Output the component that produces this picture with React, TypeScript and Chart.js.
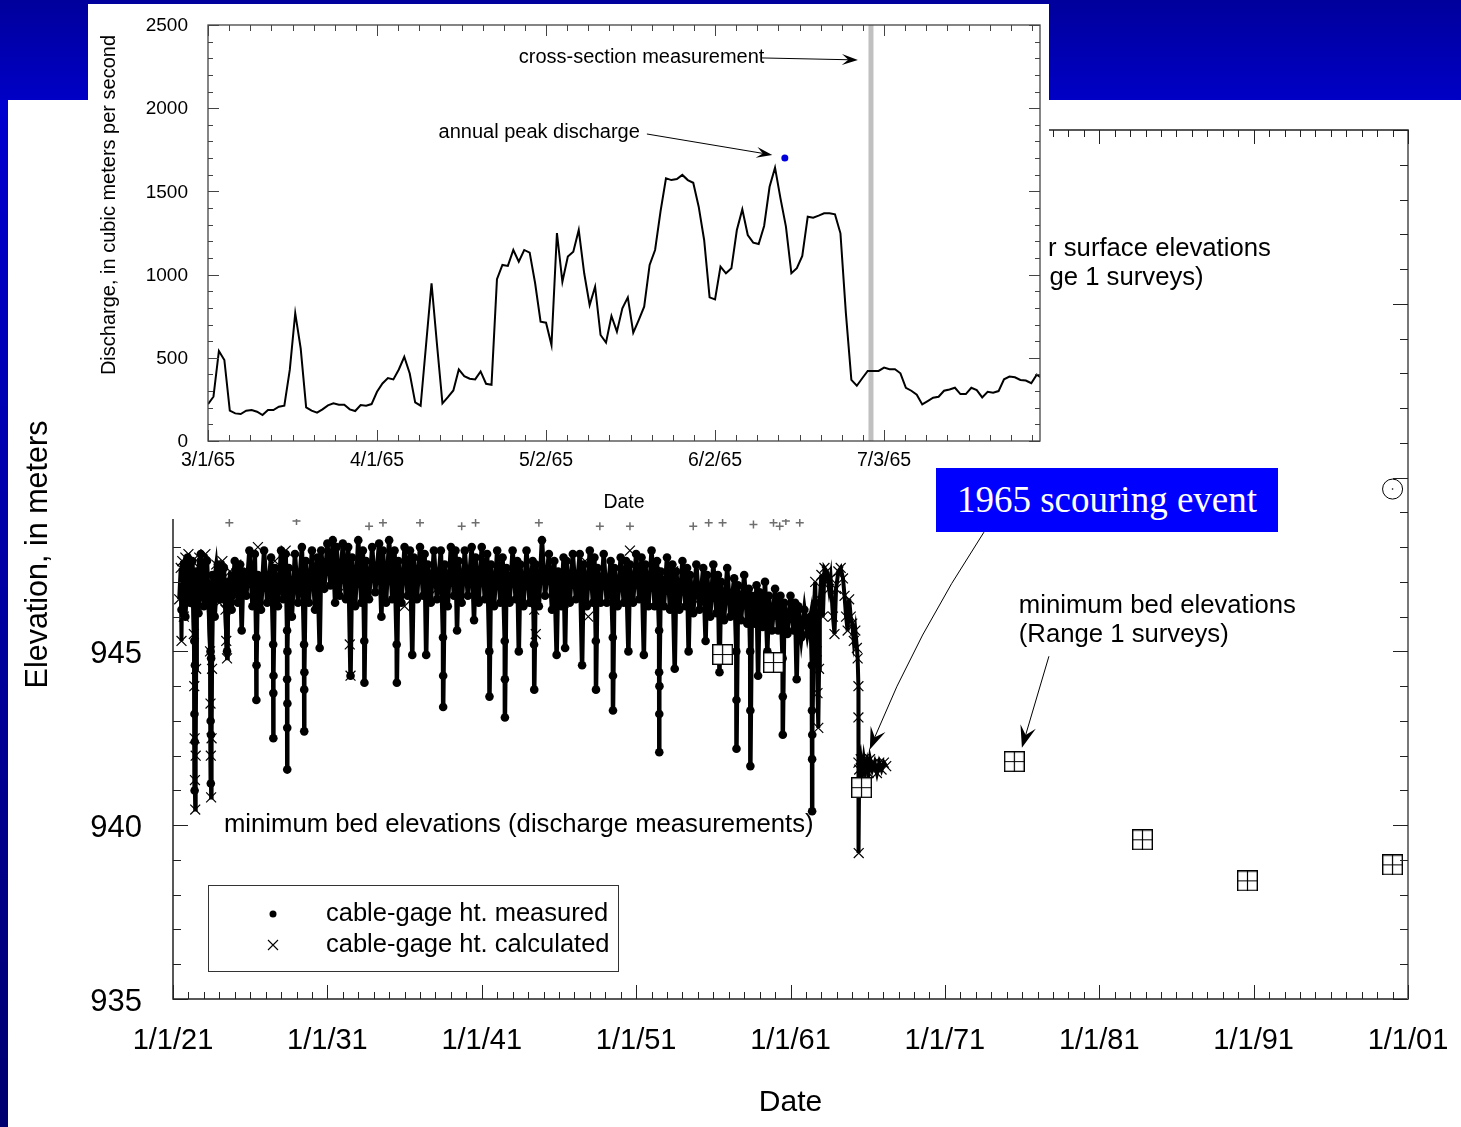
import React, { useEffect, useRef } from 'react';
import { Chart, registerables } from 'chart.js';

Chart.register(...registerables);

const FONT = "'Liberation Sans', Arial, Helvetica, sans-serif";
const SERIF = "'Liberation Serif', 'Times New Roman', Times, serif";

// ================= MAIN CHART DATA (decimal year, elevation in m) =================
const mainDecadeTicks = [1921, 1931, 1941, 1951, 1961, 1971, 1981, 1991, 2001];
const mainElevTicks = [935, 940, 945, 950, 955, 960];

const cableGageMeasured: [number, number][] = [
  [1921.55, 946.2], [1921.7, 947.5], [1921.8, 946.0], [1921.95, 947.7], [1922.1, 946.4], [1922.25, 947.6],
  [1922.38, 945.3], [1922.39, 943.2], [1922.4, 941.0], [1922.41, 942.4], [1922.42, 944.6],
  [1922.5, 947.3], [1922.65, 946.1], [1922.8, 947.8], [1923.0, 946.3], [1923.2, 947.6],
  [1923.43, 945.0], [1923.44, 943.0], [1923.45, 941.2], [1923.46, 942.6], [1923.47, 944.8],
  [1923.55, 947.2], [1923.7, 946.0], [1923.9, 947.5], [1924.1, 946.5], [1924.3, 947.4],
  [1924.5, 945.0], [1924.6, 947.0], [1924.8, 946.2], [1925.0, 947.6], [1925.2, 946.4], [1925.35, 947.5],
  [1925.45, 945.6], [1925.55, 947.3], [1925.75, 946.6], [1925.95, 947.9], [1926.15, 946.3], [1926.3, 947.8],
  [1926.39, 945.4], [1926.4, 943.6], [1926.41, 944.6],
  [1926.5, 947.2], [1926.7, 946.2], [1926.9, 947.9], [1927.1, 946.4], [1927.35, 947.7],
  [1927.49, 945.2], [1927.5, 943.8], [1927.5, 942.5], [1927.51, 944.3],
  [1927.6, 947.4], [1927.8, 946.3], [1928.0, 947.9], [1928.15, 946.5], [1928.3, 947.8],
  [1928.39, 945.6], [1928.39, 944.2], [1928.4, 942.8], [1928.4, 941.6], [1928.41, 943.5], [1928.41, 945.0],
  [1928.5, 947.4], [1928.7, 946.0], [1928.9, 947.8], [1929.1, 946.4], [1929.35, 948.0],
  [1929.49, 945.2], [1929.5, 943.9], [1929.5, 942.7], [1929.51, 944.4],
  [1929.6, 947.6], [1929.8, 946.4], [1930.0, 947.9], [1930.2, 946.2], [1930.35, 947.7],
  [1930.5, 945.1], [1930.6, 947.9], [1930.8, 946.8], [1931.0, 948.1], [1931.2, 946.9], [1931.35, 948.2],
  [1931.5, 946.4], [1931.6, 948.0], [1931.8, 946.6], [1932.0, 948.1], [1932.2, 946.5], [1932.35, 948.0],
  [1932.5, 944.3], [1932.6, 947.7], [1932.8, 946.3], [1933.0, 948.2], [1933.2, 946.4], [1933.3, 947.9],
  [1933.39, 945.3], [1933.4, 944.1], [1933.5, 947.6], [1933.7, 946.5], [1933.9, 948.0], [1934.1, 946.7], [1934.35, 948.1],
  [1934.5, 946.0], [1934.6, 947.9], [1934.8, 946.4], [1935.0, 948.2], [1935.2, 946.5], [1935.35, 947.9],
  [1935.49, 945.2], [1935.5, 944.1], [1935.6, 947.6], [1935.8, 946.4], [1936.0, 948.0], [1936.2, 946.6], [1936.35, 947.9],
  [1936.5, 944.9], [1936.6, 947.7], [1936.8, 946.5], [1937.0, 948.0], [1937.2, 946.6], [1937.3, 947.8],
  [1937.4, 944.9], [1937.5, 947.5], [1937.7, 946.4], [1937.9, 947.9], [1938.1, 946.5], [1938.35, 947.9],
  [1938.49, 945.4], [1938.5, 944.3], [1938.5, 943.4], [1938.6, 947.5], [1938.8, 946.3], [1939.0, 948.0], [1939.2, 946.6], [1939.3, 947.9],
  [1939.4, 945.6], [1939.5, 947.6], [1939.7, 946.4], [1939.9, 947.9], [1940.1, 946.6], [1940.35, 948.0],
  [1940.5, 945.9], [1940.6, 947.7], [1940.8, 946.4], [1941.0, 948.0], [1941.2, 946.5], [1941.35, 947.8],
  [1941.49, 945.0], [1941.5, 943.7], [1941.6, 947.5], [1941.8, 946.3], [1942.0, 947.9], [1942.2, 946.4], [1942.35, 947.7],
  [1942.49, 945.3], [1942.5, 944.2], [1942.5, 943.1], [1942.6, 947.4], [1942.8, 946.4], [1943.0, 947.9], [1943.2, 946.5], [1943.3, 947.6],
  [1943.4, 945.0], [1943.5, 947.5], [1943.7, 946.3], [1943.9, 947.9], [1944.1, 946.4], [1944.3, 947.6],
  [1944.39, 945.2], [1944.4, 943.9], [1944.5, 947.5], [1944.7, 946.3], [1944.9, 948.2], [1945.1, 946.6], [1945.35, 947.8],
  [1945.55, 946.2], [1945.7, 947.6], [1945.85, 944.9], [1945.95, 947.3], [1946.15, 946.3], [1946.3, 947.7],
  [1946.4, 945.1], [1946.5, 947.6], [1946.7, 946.4], [1946.9, 947.8], [1947.1, 946.5], [1947.35, 947.8],
  [1947.5, 944.6], [1947.6, 947.5], [1947.8, 946.3], [1948.0, 947.9], [1948.2, 946.4], [1948.3, 947.7],
  [1948.39, 945.3], [1948.4, 943.9], [1948.5, 947.4], [1948.7, 946.4], [1948.9, 947.8], [1949.1, 946.4], [1949.35, 947.6],
  [1949.49, 945.4], [1949.5, 944.3], [1949.5, 943.3], [1949.6, 947.4], [1949.8, 946.3], [1950.0, 947.7], [1950.2, 946.4], [1950.35, 947.6],
  [1950.5, 945.0], [1950.6, 947.5], [1950.8, 946.4], [1951.0, 947.8], [1951.2, 946.5], [1951.35, 947.7],
  [1951.5, 944.9], [1951.6, 947.5], [1951.8, 946.3], [1952.0, 947.9], [1952.2, 946.3], [1952.35, 947.6],
  [1952.49, 945.6], [1952.49, 944.4], [1952.5, 943.2], [1952.5, 942.1], [1952.51, 944.0],
  [1952.6, 947.3], [1952.8, 946.3], [1953.0, 947.7], [1953.2, 946.2], [1953.35, 947.5],
  [1953.5, 944.5], [1953.6, 947.3], [1953.8, 946.2], [1954.0, 947.6], [1954.2, 946.3], [1954.3, 947.4],
  [1954.4, 945.0], [1954.5, 947.2], [1954.7, 946.1], [1954.9, 947.5], [1955.1, 946.2], [1955.35, 947.4],
  [1955.5, 945.3], [1955.6, 947.2], [1955.8, 946.0], [1956.0, 947.5], [1956.2, 946.1], [1956.3, 947.2],
  [1956.4, 944.4], [1956.5, 947.0], [1956.7, 945.9], [1956.9, 947.4], [1957.1, 946.0], [1957.35, 947.1],
  [1957.49, 945.0], [1957.5, 943.6], [1957.5, 942.2], [1957.6, 946.9], [1957.8, 945.9], [1958.0, 947.2], [1958.2, 945.8], [1958.3, 946.8],
  [1958.39, 945.0], [1958.4, 943.3], [1958.4, 941.7], [1958.5, 946.6], [1958.7, 945.8], [1958.8, 946.9], [1958.9, 944.3], [1959.0, 946.7],
  [1959.2, 945.7], [1959.35, 947.0], [1959.5, 945.0], [1959.6, 946.6], [1959.8, 945.6], [1960.0, 946.8],
  [1960.2, 945.6], [1960.35, 946.6], [1960.49, 944.8], [1960.5, 943.7], [1960.5, 942.6], [1960.6, 946.4], [1960.8, 945.5], [1961.0, 946.6],
  [1961.2, 945.6], [1961.3, 946.4], [1961.4, 944.2], [1961.5, 946.3], [1961.7, 945.4], [1961.9, 946.2],
  [1962.1, 945.5], [1962.3, 946.0], [1962.39, 944.6], [1962.39, 943.3], [1962.4, 941.9], [1962.4, 940.4], [1962.41, 942.6],
  [1962.5, 945.8], [1962.6, 946.4],
];

const cableGageCalculatedEarly: [number, number][] = [
  [1921.4, 946.5], [1921.5, 947.4], [1921.55, 945.3], [1921.6, 947.6], [1921.7, 946.0], [1921.8, 947.7],
  [1921.9, 946.4], [1922.0, 947.8], [1922.1, 946.8], [1922.25, 947.6], [1922.35, 945.5], [1922.38, 944.0],
  [1922.4, 942.5], [1922.42, 941.3], [1922.44, 940.45], [1922.47, 942.0], [1922.5, 944.5], [1922.55, 946.7],
  [1922.7, 947.7], [1922.9, 946.5], [1923.1, 947.8], [1923.3, 946.6], [1923.4, 945.0], [1923.43, 943.5],
  [1923.45, 942.0], [1923.47, 940.8], [1923.5, 942.5], [1923.53, 944.5], [1923.6, 946.8], [1923.8, 947.5],
  [1924.0, 946.4], [1924.2, 947.6], [1924.4, 946.2], [1924.45, 945.3], [1924.5, 944.8], [1924.55, 946.5],
  [1924.7, 947.3], [1924.9, 946.5], [1925.1, 947.5],
];

const cableGageCalculatedLate: [number, number][] = [
  [1962.5, 946.0], [1962.6, 947.0], [1962.7, 945.0], [1962.75, 943.8], [1962.8, 942.8], [1962.85, 944.5],
  [1962.9, 946.5], [1963.0, 947.2], [1963.1, 946.0], [1963.2, 947.4], [1963.35, 947.3], [1963.5, 946.8],
  [1963.6, 947.1], [1963.75, 946.0], [1963.85, 945.5], [1963.95, 946.8], [1964.1, 947.3], [1964.25, 947.4],
  [1964.4, 947.1], [1964.5, 946.6], [1964.6, 946.0], [1964.7, 945.6], [1964.8, 946.5], [1964.9, 946.0],
  [1965.0, 945.8], [1965.1, 945.3], [1965.2, 945.6], [1965.3, 945.1], [1965.35, 944.8], [1965.4, 944.0],
  [1965.4, 943.1], [1965.4, 941.8], [1965.42, 939.2], [1965.45, 941.6], [1965.55, 941.9], [1965.65, 941.5],
  [1965.75, 941.9], [1965.85, 941.6], [1965.95, 941.8], [1966.05, 941.5], [1966.15, 941.9], [1966.3, 941.6],
  [1966.45, 941.8], [1966.6, 941.5], [1966.75, 941.8], [1966.9, 941.6], [1967.05, 941.8], [1967.2, 941.7],
];

const cableGageCalculatedIsolated: [number, number][] = [
  [1926.5, 948.0], [1927.6, 947.6], [1928.3, 947.9], [1929.6, 947.2], [1931.7, 946.9], [1932.45, 945.2],
  [1932.5, 944.3], [1936.0, 946.3], [1938.1, 946.8], [1944.4, 946.2], [1944.5, 945.5], [1945.2, 947.1],
  [1946.3, 946.4], [1947.7, 947.6], [1947.9, 946.0], [1950.6, 947.9], [1952.3, 947.5], [1953.4, 947.3],
  [1955.2, 946.3], [1955.4, 946.6], [1961.0, 945.9],
];

const waterSurfaceDischargeMeas: [number, number][] = [
  [1924.65, 948.7], [1929.0, 948.75], [1933.7, 948.6], [1934.6, 948.7], [1937.0, 948.7], [1939.7, 948.6],
  [1940.6, 948.7], [1944.7, 948.7], [1948.65, 948.6], [1950.6, 948.6], [1954.7, 948.6], [1955.7, 948.7],
  [1956.6, 948.7], [1958.6, 948.65], [1959.9, 948.7], [1960.3, 948.6], [1960.7, 948.75], [1961.6, 948.7],
];

const range1BedDates = [1956.6, 1959.9, 1965.6, 1975.5, 1983.8, 1990.6, 2000.0];
const range1BedElev = [944.91, 944.68, 941.08, 941.83, 939.58, 938.4, 938.86];
const range1WaterDates = [2000.0];
const range1WaterElev = [949.67];

// annotation anchors (data coordinates)
const noteDischargeBed = { x: 1924.3, y: 940.0 };
const noteRange1Bed = { x: 1975.79, y1: 946.3, y2: 945.46 };
const noteRange1Water = { x: 1974.17, y1: 956.59, y2: 955.75 };
const arrowRange1 = { x0: 1977.74, y0: 944.86, x1: 1975.99, y1: 942.23 };
const arrowScour = { x0: 1973.53, y0: 948.43, cx: 1969.12, cy: 945.46, x1: 1966.14, y1: 942.18 };

// ================= INSET DATA (days since 3/1/65, m3/s) =================
const dischargeCms = [
  222, 266, 541, 487, 182, 166, 162, 182, 186, 176,
  156, 186, 186, 206, 212, 427, 768, 557, 202, 182,
  170, 190, 214, 226, 218, 218, 190, 180, 216, 212,
  222, 296, 346, 378, 370, 430, 506, 406, 232, 212,
  580, 948, 580, 226, 264, 304, 430, 390, 374, 370,
  418, 344, 338, 972, 1058, 1052, 1148, 1078, 1148, 1132,
  948, 717, 711, 577, 1250, 957, 1108, 1138, 1268, 1008,
  817, 927, 637, 591, 751, 657, 797, 863, 651, 727,
  807, 1058, 1148, 1380, 1579, 1568, 1574, 1599, 1568, 1552,
  1408, 1208, 863, 851, 1048, 1008, 1038, 1268, 1392, 1238,
  1192, 1184, 1292, 1528, 1643, 1458, 1288, 1008, 1038, 1112,
  1348, 1342, 1354, 1368, 1368, 1362, 1248, 767, 367, 332,
  377, 421, 421, 421, 441, 431, 431, 407, 320, 302,
  278, 220, 240, 260, 266, 302, 310, 320, 282, 282,
  320, 306, 262, 296, 290, 300, 371, 387, 383, 367,
  363, 347, 399, 377,
];
const insetDateTicks = [0, 31, 62, 93, 124];
const insetDateLabels = ['3/1/65', '4/1/65', '5/2/65', '6/2/65', '7/3/65'];
const insetDischargeTicks = [0, 500, 1000, 1500, 2000, 2500];
const insetDayMax = 152.6;
const annualPeakDay = [105.8];
const annualPeakCms = [1700];
const crossSectionDay = 121.6;
const noteCross = { x: 57.0, y: 2302 };
const arrowCross = { x0: 101.6, y0: 2302, x1: 119.2, y1: 2290 };
const notePeak = { x: 79.2, y: 1857 };
const arrowPeak = { x0: 80.5, y0: 1845, x1: 103.5, y1: 1719 };

// ================= helpers =================
function drawArrow(ctx: CanvasRenderingContext2D, x0: number, y0: number, x1: number, y1: number,
  len: number, half: number, lw: number, cx?: number, cy?: number) {
  const fx = cx !== undefined ? cx : x0;
  const fy = cy !== undefined ? cy : y0;
  const ang = Math.atan2(y1 - fy, x1 - fx);
  const cos = Math.cos(ang), sin = Math.sin(ang);
  const nx = x1 - len * 0.6 * cos, ny = y1 - len * 0.6 * sin;
  ctx.strokeStyle = '#000';
  ctx.fillStyle = '#000';
  ctx.lineWidth = lw;
  ctx.beginPath();
  ctx.moveTo(x0, y0);
  if (cx !== undefined && cy !== undefined) ctx.quadraticCurveTo(cx, cy, nx, ny);
  else ctx.lineTo(nx, ny);
  ctx.stroke();
  const bx = x1 - len * cos, by = y1 - len * sin;
  ctx.beginPath();
  ctx.moveTo(x1, y1);
  ctx.lineTo(bx - half * sin, by + half * cos);
  ctx.lineTo(nx, ny);
  ctx.lineTo(bx + half * sin, by - half * cos);
  ctx.closePath();
  ctx.fill();
}

function makeGridSquare(size: number): HTMLCanvasElement {
  const c = document.createElement('canvas');
  c.width = size;
  c.height = size;
  const g = c.getContext('2d')!;
  g.fillStyle = '#fff';
  g.fillRect(0, 0, size, size);
  g.strokeStyle = '#000';
  g.lineWidth = 1.4;
  g.strokeRect(0.7, 0.7, size - 1.4, size - 1.4);
  g.lineWidth = 1.2;
  g.beginPath();
  g.moveTo(size / 2, 0);
  g.lineTo(size / 2, size);
  g.moveTo(0, size / 2);
  g.lineTo(size, size / 2);
  g.stroke();
  return c;
}

const pts = (arr: [number, number][]) => arr.map(([x, y]) => ({ x, y }));
const zeroPad = (s: any) => { s.paddingLeft = 0; s.paddingRight = 0; s.paddingTop = 0; s.paddingBottom = 0; };

export default function App() {
  const mainRef = useRef<HTMLCanvasElement>(null);
  const insetRef = useRef<HTMLCanvasElement>(null);

  useEffect(() => {
    const square = makeGridSquare(21);

    const mainDecor = {
      id: 'mainDecor',
      afterDraw(chart: any) {
        const { ctx, chartArea: a, scales } = chart;
        const x = scales.x, y = scales.y;
        ctx.save();
        ctx.strokeStyle = '#222';
        ctx.lineWidth = 1.5;
        ctx.strokeRect(a.left, a.top, a.right - a.left, a.bottom - a.top);
        ctx.strokeStyle = '#777';
        ctx.lineWidth = 2;
        ctx.beginPath();
        ctx.moveTo(a.right, a.top); ctx.lineTo(a.right, a.bottom);
        ctx.stroke();
        ctx.strokeStyle = '#222';
        ctx.lineWidth = 1;
        ctx.beginPath();
        for (let yr = 1921; yr <= 2001; yr++) {
          const px = Math.round(x.getPixelForValue(yr)) + 0.5;
          const len = (yr - 1921) % 10 === 0 ? 14 : 7;
          ctx.moveTo(px, a.bottom); ctx.lineTo(px, a.bottom - len);
          ctx.moveTo(px, a.top); ctx.lineTo(px, a.top + len);
        }
        for (let e = 935; e <= 960; e++) {
          const py = Math.round(y.getPixelForValue(e)) + 0.5;
          const len = e % 5 === 0 ? 15 : 8;
          ctx.moveTo(a.left, py); ctx.lineTo(a.left + len, py);
          ctx.moveTo(a.right, py); ctx.lineTo(a.right - len, py);
        }
        ctx.stroke();

        // y axis title
        ctx.save();
        ctx.translate(39, (a.top + a.bottom) / 2 - 10);
        ctx.rotate(-Math.PI / 2);
        ctx.fillStyle = '#000';
        ctx.font = `30.5px ${FONT}`;
        ctx.textAlign = 'center';
        ctx.textBaseline = 'middle';
        ctx.fillText('Elevation, in meters', 0, 0);
        ctx.restore();

        // annotations
        ctx.fillStyle = '#000';
        ctx.font = `25.7px ${FONT}`;
        ctx.textAlign = 'left';
        ctx.textBaseline = 'middle';
        ctx.fillText('minimum bed elevations (discharge measurements)',
          x.getPixelForValue(noteDischargeBed.x), y.getPixelForValue(noteDischargeBed.y));
        ctx.fillText('minimum bed elevations', x.getPixelForValue(noteRange1Bed.x), y.getPixelForValue(noteRange1Bed.y1));
        ctx.fillText('(Range 1 surveys)', x.getPixelForValue(noteRange1Bed.x), y.getPixelForValue(noteRange1Bed.y2));
        ctx.fillText('water surface elevations', x.getPixelForValue(noteRange1Water.x), y.getPixelForValue(noteRange1Water.y1));
        ctx.fillText('(Range 1 surveys)', x.getPixelForValue(noteRange1Water.x), y.getPixelForValue(noteRange1Water.y2));

        drawArrow(ctx, x.getPixelForValue(arrowRange1.x0), y.getPixelForValue(arrowRange1.y0),
          x.getPixelForValue(arrowRange1.x1), y.getPixelForValue(arrowRange1.y1), 22, 8, 1);
        drawArrow(ctx, x.getPixelForValue(arrowScour.x0), y.getPixelForValue(arrowScour.y0),
          x.getPixelForValue(arrowScour.x1), y.getPixelForValue(arrowScour.y1), 22, 8, 1,
          x.getPixelForValue(arrowScour.cx), y.getPixelForValue(arrowScour.cy));

        // legend box
        const lx = a.left + 35, ly = a.bottom - 114;
        ctx.strokeStyle = '#333';
        ctx.lineWidth = 1;
        ctx.strokeRect(lx + 0.5, ly + 0.5, 410, 86);
        ctx.fillStyle = '#000';
        ctx.beginPath();
        ctx.arc(lx + 65, ly + 29, 3.5, 0, Math.PI * 2);
        ctx.fill();
        ctx.strokeStyle = '#000';
        ctx.lineWidth = 1.1;
        ctx.beginPath();
        const cx0 = lx + 65, cy0 = ly + 60, r = 5;
        ctx.moveTo(cx0 - r, cy0 - r); ctx.lineTo(cx0 + r, cy0 + r);
        ctx.moveTo(cx0 + r, cy0 - r); ctx.lineTo(cx0 - r, cy0 + r);
        ctx.stroke();
        ctx.font = `25.5px ${FONT}`;
        ctx.textAlign = 'left';
        ctx.textBaseline = 'middle';
        ctx.fillText('cable-gage ht. measured', lx + 118, ly + 29);
        ctx.fillText('cable-gage ht. calculated', lx + 118, ly + 60);
        ctx.restore();
      },
    };

    const crossStyle = {
      showLine: false,
      pointStyle: 'crossRot',
      pointRadius: 7,
      pointBorderColor: '#000',
      pointBorderWidth: 1.2,
      order: 2,
    };

    const main = new Chart(mainRef.current!, {
      type: 'scatter',
      data: {
        datasets: [
          {
            label: 'minimum bed elevations (Range 1 surveys)',
            data: range1BedDates.map((d, i) => ({ x: d, y: range1BedElev[i] })),
            pointStyle: square as any,
            pointRadius: 10,
            showLine: false,
            order: 0,
          },
          {
            label: 'water surface elevations (Range 1 surveys)',
            data: range1WaterDates.map((d, i) => ({ x: d, y: range1WaterElev[i] })),
            pointStyle: 'circle',
            pointRadius: 10,
            pointBackgroundColor: '#fff',
            pointBorderColor: '#000',
            pointBorderWidth: 1,
            showLine: false,
            order: 1,
          },
          {
            label: 'water surface elevations (Range 1 surveys) centre',
            data: range1WaterDates.map((d, i) => ({ x: d, y: range1WaterElev[i] })),
            pointStyle: 'circle',
            pointRadius: 0.8,
            pointBackgroundColor: '#000',
            pointBorderWidth: 0,
            showLine: false,
            order: 0,
          },
          { ...crossStyle, label: 'cable-gage ht. calculated', data: pts(cableGageCalculatedLate), showLine: true, borderColor: '#000', borderWidth: 4 },
          { ...crossStyle, label: 'cable-gage ht. calculated (early)', data: pts(cableGageCalculatedEarly), showLine: true, borderColor: '#000', borderWidth: 4 },
          { ...crossStyle, label: 'cable-gage ht. calculated (isolated)', data: pts(cableGageCalculatedIsolated) },
          {
            label: 'cable-gage ht. measured',
            data: pts(cableGageMeasured),
            showLine: true,
            borderColor: '#000',
            borderWidth: 4.5,
            pointStyle: 'circle',
            pointRadius: 4.3,
            pointBackgroundColor: '#000',
            pointBorderWidth: 0,
            order: 3,
          },
          {
            label: 'water surface (discharge measurements)',
            data: pts(waterSurfaceDischargeMeas),
            showLine: false,
            pointStyle: 'cross',
            pointRadius: 4,
            pointBorderColor: '#6e6e6e',
            pointBorderWidth: 1.5,
            order: 4,
          },
        ],
      },
      options: {
        responsive: false,
        animation: false,
        devicePixelRatio: 1,
        layout: { padding: { top: 130, right: 53, left: 0, bottom: 0 } },
        plugins: { legend: { display: false }, tooltip: { enabled: false } },
        elements: { line: { tension: 0 } },
        scales: {
          x: {
            type: 'linear',
            position: 'bottom',
            min: 1921,
            max: 2001,
            afterBuildTicks: (s: any) => { s.ticks = mainDecadeTicks.map((v) => ({ value: v })); },
            afterFit: (s: any) => { s.height = 128; zeroPad(s); },
            grid: { display: false, drawTicks: false },
            border: { display: false },
            ticks: {
              autoSkip: false,
              maxRotation: 0,
              padding: 25,
              color: '#000',
              font: { family: FONT, size: 29 },
              callback: (v: any) => '1/1/' + String(Math.round(Number(v)) % 100).padStart(2, '0'),
            },
            title: {
              display: true,
              text: 'Date',
              color: '#000',
              font: { family: FONT, size: 30 },
              padding: { top: 0, bottom: 6 },
            },
          },
          y: {
            type: 'linear',
            min: 935,
            max: 960,
            afterBuildTicks: (s: any) => { s.ticks = mainElevTicks.map((v) => ({ value: v })); },
            afterFit: (s: any) => { s.width = 173; zeroPad(s); },
            grid: { display: false, drawTicks: false },
            border: { display: false },
            ticks: {
              autoSkip: false,
              padding: 31,
              labelOffset: 3,
              color: '#000',
              font: { family: FONT, size: 31 },
              callback: (v: any) => String(v),
            },
          },
        },
      },
      plugins: [mainDecor],
    } as any);

    const insetDecor = {
      id: 'insetDecor',
      afterDraw(chart: any) {
        const { ctx, chartArea: a, scales } = chart;
        const x = scales.x, y = scales.y;
        ctx.save();
        ctx.strokeStyle = '#444';
        ctx.lineWidth = 1.3;
        ctx.strokeRect(a.left, a.top, a.right - a.left, a.bottom - a.top);
        ctx.lineWidth = 1;
        ctx.beginPath();
        for (let k = 0; k * 3.875 <= insetDayMax + 0.01; k++) {
          const px = Math.round(x.getPixelForValue(k * 3.875)) + 0.5;
          const len = k % 8 === 0 ? 11 : 6;
          ctx.moveTo(px, a.bottom); ctx.lineTo(px, a.bottom - len);
          ctx.moveTo(px, a.top); ctx.lineTo(px, a.top + len);
        }
        for (let v = 0; v <= 2500; v += 100) {
          const py = Math.round(y.getPixelForValue(v)) + 0.5;
          const len = v % 500 === 0 ? 11 : 5;
          ctx.moveTo(a.left, py); ctx.lineTo(a.left + len, py);
          ctx.moveTo(a.right, py); ctx.lineTo(a.right - len, py);
        }
        ctx.stroke();

        ctx.save();
        ctx.translate(21, 201);
        ctx.rotate(-Math.PI / 2);
        ctx.fillStyle = '#000';
        ctx.font = `20px ${FONT}`;
        ctx.textAlign = 'center';
        ctx.textBaseline = 'middle';
        ctx.fillText('Discharge, in cubic meters per second', 0, 0);
        ctx.restore();

        ctx.fillStyle = '#000';
        ctx.font = `20px ${FONT}`;
        ctx.textBaseline = 'middle';
        ctx.textAlign = 'left';
        ctx.fillText('cross-section measurement', x.getPixelForValue(noteCross.x), y.getPixelForValue(noteCross.y));
        ctx.textAlign = 'right';
        ctx.fillText('annual peak discharge', x.getPixelForValue(notePeak.x), y.getPixelForValue(notePeak.y));
        drawArrow(ctx, x.getPixelForValue(arrowCross.x0), y.getPixelForValue(arrowCross.y0),
          x.getPixelForValue(arrowCross.x1), y.getPixelForValue(arrowCross.y1), 16, 5.5, 1);
        drawArrow(ctx, x.getPixelForValue(arrowPeak.x0), y.getPixelForValue(arrowPeak.y0),
          x.getPixelForValue(arrowPeak.x1), y.getPixelForValue(arrowPeak.y1), 16, 5.5, 1);
        ctx.restore();
      },
    };

    const inset = new Chart(insetRef.current!, {
      type: 'scatter',
      data: {
        datasets: [
          {
            label: 'annual peak discharge',
            data: annualPeakDay.map((d, i) => ({ x: d, y: annualPeakCms[i] })),
            pointStyle: 'circle',
            pointRadius: 3.5,
            pointBackgroundColor: '#0000dd',
            pointBorderWidth: 0,
            showLine: false,
            order: 0,
          },
          {
            label: 'discharge',
            data: dischargeCms.map((v, i) => ({ x: i, y: v })),
            showLine: true,
            borderColor: '#000',
            borderWidth: 2,
            pointRadius: 0,
            order: 1,
          },
          {
            label: 'cross-section measurement',
            data: [{ x: crossSectionDay, y: 0 }, { x: crossSectionDay, y: 2500 }],
            showLine: true,
            borderColor: '#c0c0c0',
            borderWidth: 5,
            pointRadius: 0,
            order: 10,
          },
        ],
      },
      options: {
        responsive: false,
        animation: false,
        devicePixelRatio: 1,
        layout: { padding: { top: 21, right: 9, left: 0, bottom: 0 } },
        plugins: { legend: { display: false }, tooltip: { enabled: false } },
        scales: {
          x: {
            type: 'linear',
            position: 'bottom',
            min: 0,
            max: insetDayMax,
            afterBuildTicks: (s: any) => { s.ticks = insetDateTicks.map((v) => ({ value: v })); },
            afterFit: (s: any) => { s.height = 78; zeroPad(s); },
            grid: { display: false, drawTicks: false },
            border: { display: false },
            ticks: {
              autoSkip: false,
              maxRotation: 0,
              padding: 8,
              color: '#000',
              font: { family: FONT, size: 19.5 },
              callback: (v: any) => {
                const i = insetDateTicks.indexOf(Number(v));
                return i >= 0 ? insetDateLabels[i] : '';
              },
            },
            title: {
              display: true,
              text: 'Date',
              color: '#000',
              font: { family: FONT, size: 19.5 },
              padding: { top: 0, bottom: 5 },
            },
          },
          y: {
            type: 'linear',
            min: 0,
            max: 2500,
            afterBuildTicks: (s: any) => { s.ticks = insetDischargeTicks.map((v) => ({ value: v })); },
            afterFit: (s: any) => { s.width = 120; zeroPad(s); },
            grid: { display: false, drawTicks: false },
            border: { display: false },
            ticks: {
              autoSkip: false,
              padding: 20,
              labelOffset: 1,
              color: '#000',
              font: { family: FONT, size: 19 },
              callback: (v: any) => String(v),
            },
          },
        },
      },
      plugins: [insetDecor],
    } as any);

    return () => {
      main.destroy();
      inset.destroy();
    };
  }, []);

  return (
    <div style={{ position: 'absolute', left: 0, top: 0, width: 1461, height: 1127, background: '#fff', overflow: 'hidden' }}>
      <div style={{ position: 'absolute', left: 0, top: 0, width: 1461, height: 100, background: 'linear-gradient(to bottom, #00009c, #0000c6)' }} />
      <div style={{ position: 'absolute', left: 0, top: 100, width: 8, height: 1027, background: 'linear-gradient(to bottom, #0000d0, #000070)' }} />
      <canvas ref={mainRef} width={1461} height={1127} style={{ position: 'absolute', left: 0, top: 0 }} />
      <div style={{ position: 'absolute', left: 88, top: 4, width: 961, height: 515, background: '#fff' }}>
        <canvas ref={insetRef} width={961} height={515} style={{ position: 'absolute', left: 0, top: 0 }} />
      </div>
      <div style={{
        position: 'absolute', left: 936, top: 468, width: 342, height: 64, background: '#0000ff',
        color: '#fff', fontFamily: SERIF, fontSize: 37, lineHeight: '64px', textAlign: 'center', whiteSpace: 'nowrap',
      }}>1965 scouring event</div>
    </div>
  );
}
